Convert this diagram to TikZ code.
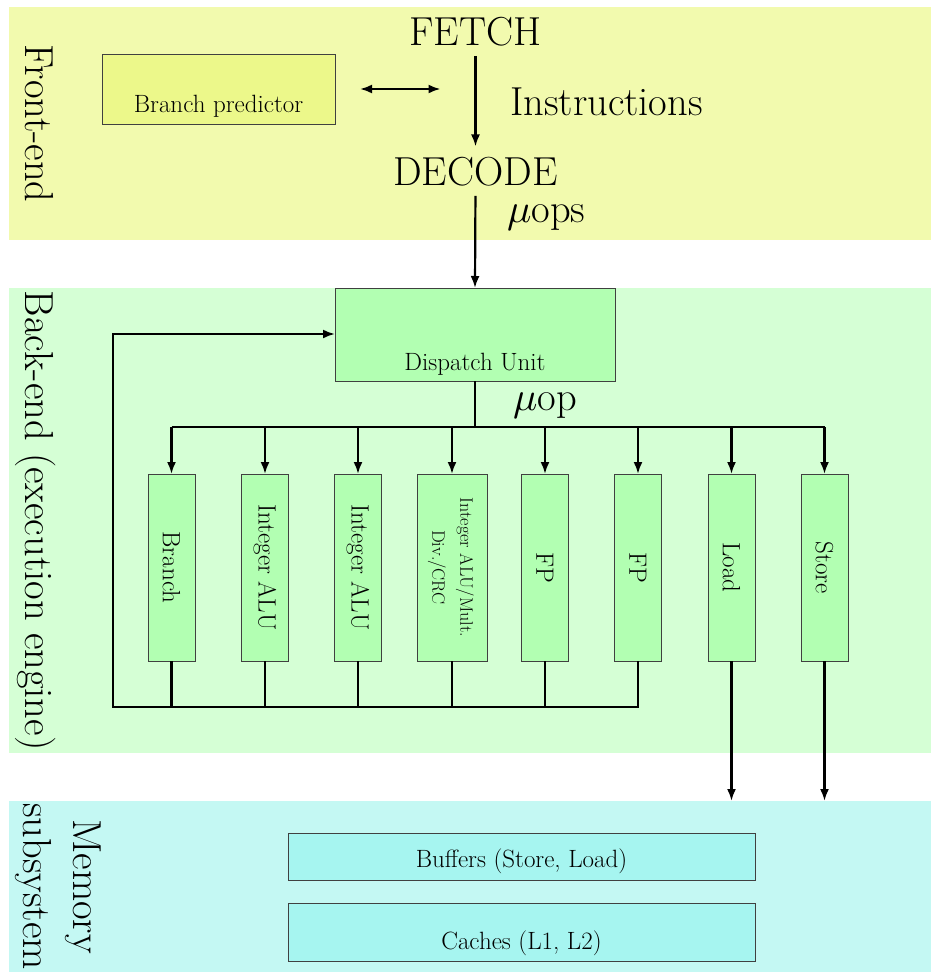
\documentclass[tikz,border=0pt]{standalone}
\usepackage{graphicx}
\usetikzlibrary{arrows.meta}

\definecolor{frontbg}{RGB}{242,250,174}
\definecolor{frontbox}{RGB}{236,248,138}
\definecolor{backbg}{RGB}{213,255,213}
\definecolor{backbox}{RGB}{178,255,178}
\definecolor{membg}{RGB}{196,248,243}
\definecolor{membox}{RGB}{166,245,240}

% a math mu set at 10pt and scaled to the large label size
\newcommand{\bigmu}{{\fontsize{10}{12}\selectfont\scalebox{4.05}{$\mu$}}}

\tikzset{
  band/.style={fill=#1, draw=none, inner sep=0, outer sep=0, anchor=north west},
  big/.style={font=\fontsize{40.5}{48}\selectfont, inner sep=0},
  lbl/.style={font=\fontsize{25}{30}\selectfont, inner sep=0},
  box/.style={draw=black!75, line width=0.8pt, fill=#1, inner sep=0, outer sep=0, anchor=north west},
  unit/.style={draw=black!75, line width=0.8pt, fill=backbox, inner sep=0, outer sep=0,
    minimum width=47pt, minimum height=187pt, font=\fontsize{25}{30}\selectfont},
  wire/.style={line width=2.2pt},
  arr/.style={wire, -{Latex[length=12pt,width=9pt]}},
  dbl/.style={wire, {Latex[length=12pt,width=9pt]}-{Latex[length=12pt,width=9pt]}},
  side/.style={big, rotate=-90, align=center},
}

\begin{document}
\begin{tikzpicture}[x=1pt,y=-1pt]
\useasboundingbox (0,0) rectangle (931,972);

% background bands
\node[band=frontbg, minimum width=922pt, minimum height=233pt] (front) at (9,7) {};
\node[band=backbg, minimum width=922pt, minimum height=465pt] (back) at (9,288) {};
\node[band=membg, minimum width=922pt, minimum height=171pt] (mem) at (9,801) {};

% band titles
\node[side, anchor=base] (lfront) at (25,123.5) {Front-end};
\node[side, anchor=base] (lback) at (25,520.5) {Back-end (execution engine)};
\node[side, font=\fontsize{40.5}{50}\selectfont] (lmem) at (58,886.5) {Memory\\subsystem};

% front-end
\node[box=frontbox, minimum width=233pt, minimum height=70pt] (bp) at (102,54) {};
\node[lbl, anchor=base] (bptext) at (218.5,112) {Branch predictor};
\node[big, anchor=base] (fetch) at (475.5,45) {FETCH};
\node[big, anchor=base] (decode) at (475.5,185) {DECODE};
\node[big, anchor=base west] (instr) at (510,115) {Instructions};
\node[big, anchor=base west] (uops) at (507,222) {\bigmu ops};

% back-end
\node[box=backbox, minimum width=280pt, minimum height=93pt] (disp) at (335,288) {};
\node[lbl, anchor=base] (disptext) at (475,370) {Dispatch Unit};
\node[big, anchor=base west] (uop) at (513,410) {\bigmu op};

\node[unit] (u1) at (171.5,567.5) {\rotatebox{-90}{Branch}};
\node[unit] (u2) at (265,567.5) {\rotatebox{-90}{Integer ALU}};
\node[unit] (u3) at (358,567.5) {\rotatebox{-90}{Integer ALU}};
\node[unit, minimum width=70pt] (u4) at (452,567.5)
  {\rotatebox{-90}{\fontsize{18}{28}\selectfont\begin{tabular}{@{}c@{}}Integer ALU/Mult.\\Div./CRC\end{tabular}}};
\node[unit] (u5) at (545,567.5) {\rotatebox{-90}{FP}};
\node[unit] (u6) at (638,567.5) {\rotatebox{-90}{FP}};
\node[unit] (u7) at (731.5,567.5) {\rotatebox{-90}{Load}};
\node[unit] (u8) at (824.5,567.5) {\rotatebox{-90}{Store}};

% memory subsystem
\node[box=membox, minimum width=467pt, minimum height=47pt] (buf) at (288,833) {};
\node[lbl, anchor=base] (buftext) at (521.5,867) {Buffers (Store, Load)};
\node[box=membox, minimum width=467pt, minimum height=58pt] (cache) at (288,903) {};
\node[lbl, anchor=base] (cachetext) at (521.5,949) {Caches (L1, L2)};

% routing points
\coordinate (bus) at (0,427);
\coordinate (ret) at (113,707);
\coordinate (retup) at (113,334);

% front-end connectors
\draw[arr, shorten <=10pt, shorten >=10pt] (fetch.south) -- (decode.north);
\draw[dbl, shorten <=25pt, shorten >=35pt] (bp.east) -- (bp.east -| fetch.south);
\draw[arr, shorten <=10pt] (decode.south) -- (disp.north);

% dispatch bus
\draw[wire] (disp.south) -- (disp.south |- bus);
\draw[wire] (u1.north |- bus) -- (u8.north |- bus);
\foreach \u in {u1,u2,u3,u4,u5,u6,u7,u8}
  \draw[arr] (\u.north |- bus) -- (\u.north);

% results fed back to dispatch
\foreach \u in {u1,u2,u3,u4,u5}
  \draw[wire] (\u.south) -- (\u.south |- ret);
\draw[arr] (u6.south) -- (u6.south |- ret) -- (ret) -- (retup) -- (disp.west |- retup);

% load / store into memory
\draw[arr] (u7.south) -- (u7.south |- mem.north);
\draw[arr] (u8.south) -- (u8.south |- mem.north);
\end{tikzpicture}
\end{document}
